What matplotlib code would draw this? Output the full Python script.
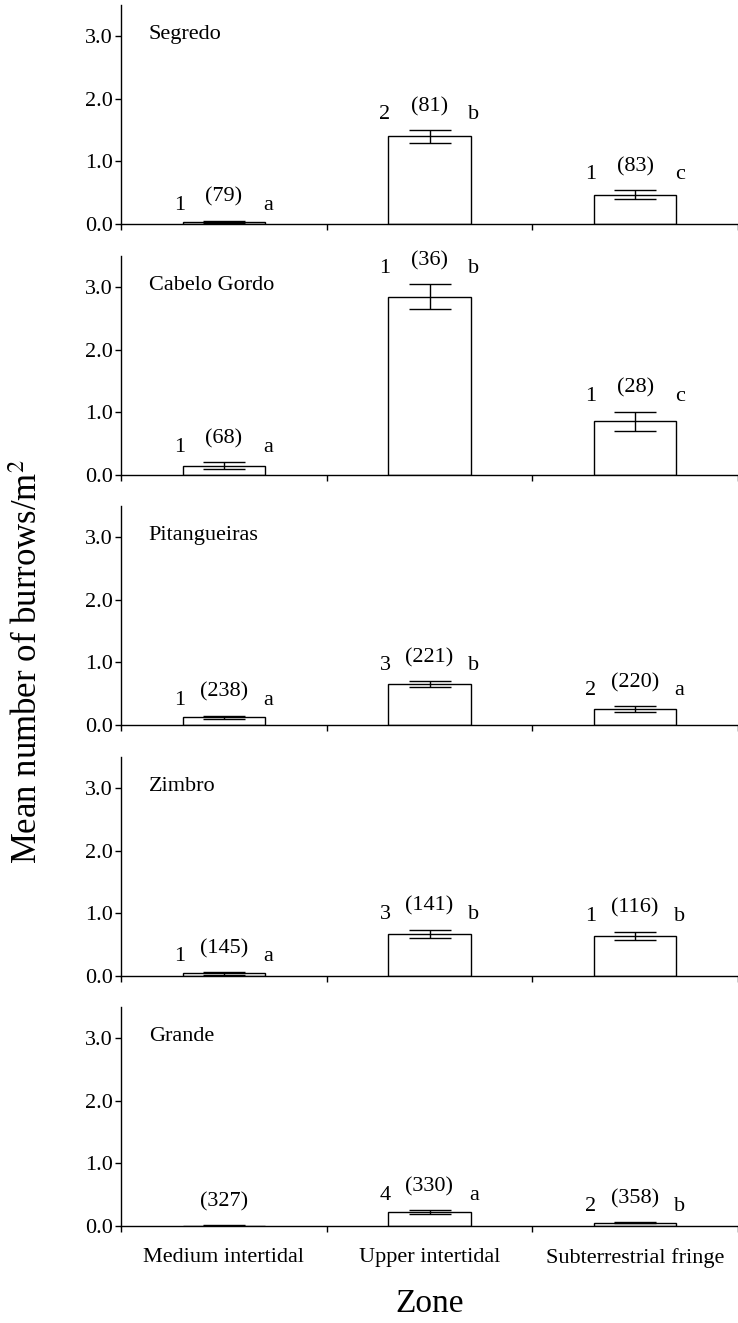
import numpy as np
import matplotlib
matplotlib.use('Agg')
import matplotlib.pyplot as plt

plt.rcParams['font.family'] = ['Liberation Serif', 'DejaVu Serif']
plt.rcParams['mathtext.fontset'] = 'stix'

zones = ['Medium intertidal', 'Upper intertidal', 'Subterrestrial fringe']
beaches = ['Segredo', 'Cabelo Gordo', 'Pitangueiras', 'Zimbro', 'Grande']

# mean burrows per m2 and standard errors, one row per beach
means = [
    [0.03, 1.40, 0.47],
    [0.15, 2.85, 0.86],
    [0.12, 0.65, 0.25],
    [0.04, 0.67, 0.64],
    [0.005, 0.22, 0.05],
]
errors = [
    [0.02, 0.10, 0.07],
    [0.05, 0.20, 0.15],
    [0.03, 0.05, 0.05],
    [0.02, 0.07, 0.07],
    [0.003, 0.03, 0.01],
]
# labels above each bar: left number, sample size, right letter
left_labels = [
    ['1', '2', '1'],
    ['1', '1', '1'],
    ['1', '3', '2'],
    ['1', '3', '1'],
    ['', '4', '2'],
]
n_labels = [
    ['(79)', '(81)', '(83)'],
    ['(68)', '(36)', '(28)'],
    ['(238)', '(221)', '(220)'],
    ['(145)', '(141)', '(116)'],
    ['(327)', '(330)', '(358)'],
]
letters = [
    ['a', 'b', 'c'],
    ['a', 'b', 'c'],
    ['a', 'b', 'a'],
    ['a', 'b', 'b'],
    ['', 'a', 'b'],
]

W, H = 738, 1323
fig = plt.figure(figsize=(W / 100, H / 100), dpi=100)

left = 121 / W
width = 1 - left
ax_h = 219 / H
zero_y = [224, 475, 725, 976, 1226]
fs = 16

x = np.arange(3) + 0.5
for i, name in enumerate(beaches):
    ax = fig.add_axes([left, 1 - zero_y[i] / H, width, ax_h])
    ax.bar(x, means[i], width=0.4, color='white', edgecolor='black', linewidth=1.0)
    ax.errorbar(x, means[i], yerr=errors[i], fmt='none', ecolor='black',
                elinewidth=1.0, capsize=15, capthick=1.0)
    ax.set_xlim(0, 3)
    ax.set_ylim(0, 3.5)
    ax.set_yticks([0, 1, 2, 3])
    ax.set_yticklabels(['%.1f' % v for v in [0, 1, 2, 3]], fontsize=fs)
    ax.set_xticks([0, 1, 2, 3])
    ax.set_xticklabels([])
    ax.tick_params(direction='out', length=4, width=1, pad=2)
    for s in ['top', 'right']:
        ax.spines[s].set_visible(False)
    ax.spines['left'].set_linewidth(1.0)
    ax.spines['bottom'].set_linewidth(1.0)
    ax.text(0.045, 3.03, name, transform=ax.get_yaxis_transform(), fontsize=fs,
            va='center', ha='left')
    for j in range(3):
        top = means[i][j] + errors[i][j]
        ax.annotate(left_labels[i][j], (x[j], top), xytext=(-32, 11),
                    textcoords='offset points', ha='center', va='center', fontsize=fs)
        ax.annotate(n_labels[i][j], (x[j], top), xytext=(0, 17),
                    textcoords='offset points', ha='center', va='center', fontsize=fs)
        ax.annotate(letters[i][j], (x[j], top), xytext=(32, 11),
                    textcoords='offset points', ha='center', va='center', fontsize=fs)
    if i == len(beaches) - 1:
        ax.set_xticks(x, minor=True)
        ax.set_xticklabels(zones, minor=True, fontsize=fs)
        ax.tick_params(axis='x', which='minor', length=0, pad=16)

fig.text(430 / W, 1 - 1304 / H, 'Zone', ha='center', va='center', fontsize=24)
fig.text(29 / W, 1 - 662 / H, 'Mean number of burrows/m$^2$', ha='center',
         va='center', rotation=90, fontsize=25)

plt.savefig('out.png', dpi=100)
